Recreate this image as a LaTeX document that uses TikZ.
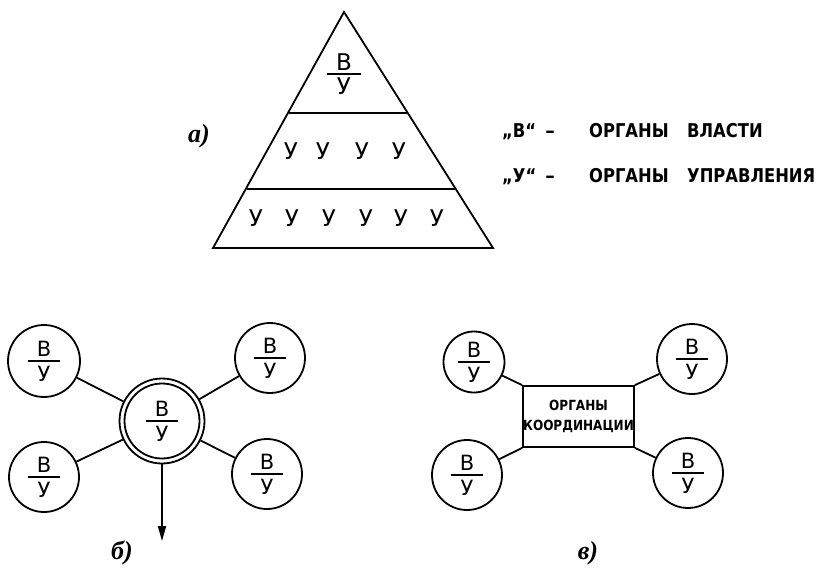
\documentclass[tikz,border=0pt]{standalone}
\usepackage{fontspec}
\usepackage{graphicx}
\setmainfont{DejaVu Sans}
\newfontfamily\lblfont{Liberation Serif}
\usetikzlibrary{arrows.meta}
\newcommand\vufrac[2]{\vbox{\hbox to #1{\hss В\hss}\kern #2\hrule height 1.6pt\kern #2\hbox to #1{\hss У\hss}}}
\newcommand\narrow[1]{\scalebox{0.86}[1]{#1}}
\tikzset{
  ln/.style={line width=1.8pt},
  unit/.style={circle, draw, ln, inner sep=0pt, font=\fontsize{21}{21}\selectfont},
  ylet/.style={font=\fontsize{23}{23}\selectfont, inner sep=0pt},
  legend/.style={font=\bfseries\fontsize{19}{19}\selectfont, inner sep=0pt, anchor=base west},
  lbl/.style={font=\lblfont\bfseries\itshape\fontsize{26}{26}\selectfont, inner sep=0pt},
  coord/.style={rectangle, draw, ln, minimum width=111pt, minimum height=61pt, inner sep=0pt,
     align=center, font=\bfseries\fontsize{14}{20}\selectfont}
}
\begin{document}
\begin{tikzpicture}[x=1pt,y=-1pt]
\useasboundingbox (0,0) rectangle (838,571);
% ---- a) pyramid
\draw[ln, line join=miter] (344,12) -- (493,248) -- (213,248) -- cycle;
\draw[ln] (289,113) -- (408,113);
\draw[ln] (247,189) -- (456,189);
\node[ylet] (top) at (344,74) {\vufrac{1.5em}{3pt}};
\foreach \x [count=\i] in {291,323,362,399}
  \node[ylet] (r2-\i) at (\x,151) {У};
\foreach \x [count=\i] in {256,292,329,366,401,437}
  \node[ylet] (r3-\i) at (\x,218) {У};
\node[lbl] (la) at (199,136) {а)};
% legend
\node[legend] (q1) at (502,137) {\narrow{„В“}};
\node[legend, anchor=base] (d1) at (550,137) {–};
\node[legend] (w11) at (589,137) {\narrow{ОРГАНЫ}};
\node[legend] (w12) at (687,137) {\narrow{ВЛАСТИ}};
\node[legend] (q2) at (502,182) {\narrow{„У“}};
\node[legend, anchor=base] (d2) at (550,182) {–};
\node[legend] (w21) at (589,182) {\narrow{ОРГАНЫ}};
\node[legend] (w22) at (687,182) {\narrow{УПРАВЛЕНИЯ}};
% ---- b) star
\node[unit, minimum size=85pt] (c) at (162,421) {\vufrac{1.55em}{4pt}};
\draw[ln] (c.center) circle (37.5);
\node[unit, minimum size=72pt] (b1) at (44,361) {\vufrac{1.55em}{4pt}};
\node[unit, minimum size=70pt] (b2) at (270,358) {\vufrac{1.55em}{4pt}};
\node[unit, minimum size=70pt] (b3) at (44,477) {\vufrac{1.55em}{4pt}};
\node[unit, minimum size=70pt] (b4) at (267,474) {\vufrac{1.55em}{4pt}};
\foreach \n in {b1,b2,b3,b4} \draw[ln] (c) -- (\n);
\coordinate (arr) at (162,541);
\draw[ln, -{Triangle[length=15pt,width=8pt]}] (c) -- (arr);
\node[lbl] (lb) at (122,553) {б)};
% ---- c) coordination
\node[coord] (k) at (578.5,416.5) {\narrow{ОРГАНЫ}\\\narrow{КООРДИНАЦИИ}};
\node[unit, minimum size=61pt] (v1) at (474,362) {\vufrac{1.55em}{4pt}};
\node[unit, minimum size=70pt] (v2) at (692,359) {\vufrac{1.55em}{4pt}};
\node[unit, minimum size=70pt] (v3) at (467,475) {\vufrac{1.55em}{4pt}};
\node[unit, minimum size=70pt] (v4) at (688,473) {\vufrac{1.55em}{4pt}};
\draw[ln] (v1) -- (k.north west);
\draw[ln] (v2) -- (k.north east);
\draw[ln] (v3) -- (k.south west);
\draw[ln] (v4) -- (k.south east);
\node[lbl] (lv) at (588,553) {в)};
\end{tikzpicture}
\end{document}
